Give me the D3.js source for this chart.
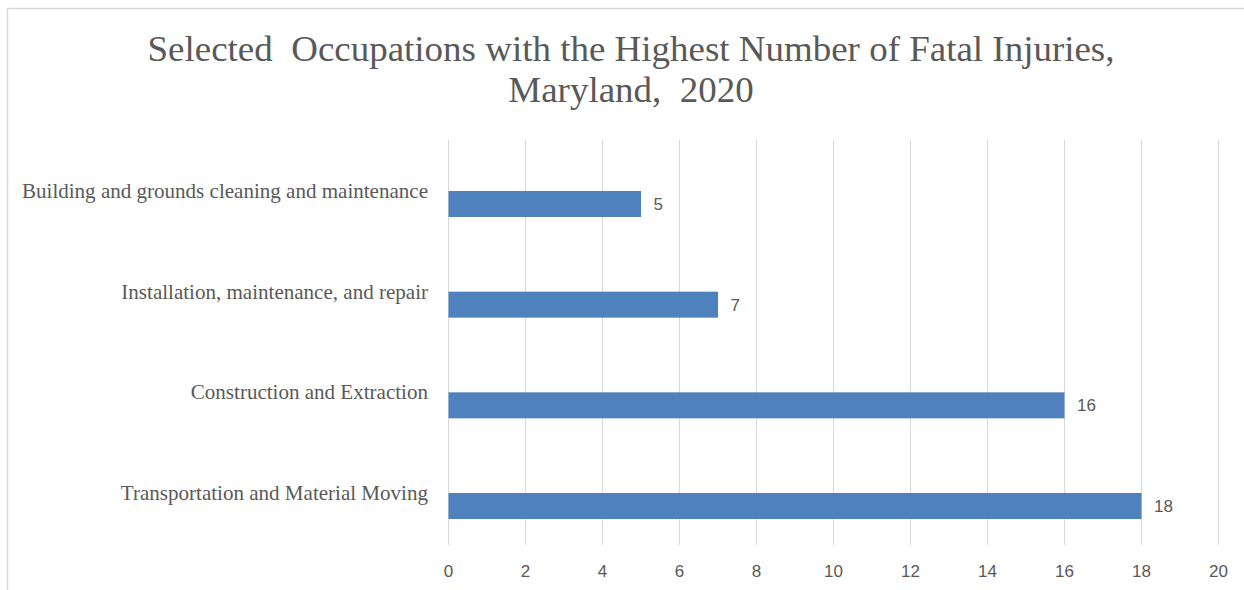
<!DOCTYPE html>
<html>
<head>
<meta charset="utf-8">
<script src="https://cdn.jsdelivr.net/npm/d3@7"></script>
<style>
  html, body { margin: 0; padding: 0; background: #fff; }
  svg { display: block; }
</style>
</head>
<body>
<svg id="chart" width="1244" height="590"></svg>
<script>
// data
const titleLines = ["Selected  Occupations with the Highest Number of Fatal Injuries,", "Maryland,  2020"];
const categories = [
  "Building and grounds cleaning and maintenance",
  "Installation, maintenance, and repair",
  "Construction and Extraction",
  "Transportation and Material Moving"
];
const values = [5, 7, 16, 18];
const ticks = [0, 2, 4, 6, 8, 10, 12, 14, 16, 18, 20];

const GRID = "#d9d9d9";
const TEXT = "#595959";
const BAR = "#4f81bd";

const svg = d3.select("#chart");

// frame
svg.append("rect")
  .attr("x", 7.5).attr("y", 8.5)
  .attr("width", 1260).attr("height", 620)
  .attr("fill", "none")
  .attr("stroke", GRID)
  .attr("stroke-width", 1.5);

// scales
const x = d3.scaleLinear().domain([0, 20]).range([448, 1218]);
const y = d3.scalePoint().domain(categories).range([204, 506]);
const plotTop = 140, plotBottom = 545, barH = 26;

// title: measure, then squeeze horizontally like the original
const title = svg.append("g")
  .attr("font-family", "'Liberation Serif', 'Times New Roman', serif")
  .attr("font-size", 36)
  .attr("fill", TEXT)
  .attr("text-anchor", "middle");
const tl = title.selectAll("text")
  .data(titleLines)
  .join("text")
  .attr("x", 631)
  .attr("y", (d, i) => 61 + i * 41)
  .style("white-space", "pre")
  .text(d => d);
const k = 967 / tl.nodes()[0].getComputedTextLength();
tl.attr("textLength", function () { return this.getComputedTextLength() * k; })
  .attr("lengthAdjust", "spacingAndGlyphs");

// gridlines
svg.append("g")
  .selectAll("line")
  .data(ticks)
  .join("line")
  .attr("x1", d => x(d) + 0.5).attr("x2", d => x(d) + 0.5)
  .attr("y1", plotTop).attr("y2", plotBottom)
  .attr("stroke", GRID)
  .attr("stroke-width", 1);

// x axis tick labels
const xAxis = svg.append("g")
  .attr("transform", `translate(0,${plotBottom})`)
  .call(d3.axisBottom(x).tickValues(ticks).tickSize(0).tickPadding(20));
xAxis.select(".domain").remove();
xAxis.selectAll("text")
  .attr("font-family", "'Liberation Sans', Arial, sans-serif")
  .attr("font-size", 17)
  .attr("fill", TEXT);

// bars
svg.append("g")
  .selectAll("rect")
  .data(values)
  .join("rect")
  .attr("x", x(0) + 0.5)
  .attr("y", (d, i) => y(categories[i]) - barH / 2)
  .attr("width", d => x(d) - x(0))
  .attr("height", barH)
  .attr("fill", BAR);

// value labels
svg.append("g")
  .selectAll("text")
  .data(values)
  .join("text")
  .attr("x", d => x(d) + 13)
  .attr("y", (d, i) => y(categories[i]))
  .attr("dy", "0.36em")
  .attr("font-family", "'Liberation Sans', Arial, sans-serif")
  .attr("font-size", 17)
  .attr("fill", TEXT)
  .text(d => d);

// category labels
const cl = svg.append("g")
  .selectAll("text")
  .data(categories)
  .join("text")
  .attr("x", 428)
  .attr("y", d => y(d) - 6)
  .attr("text-anchor", "end")
  .attr("font-family", "'Liberation Serif', 'Times New Roman', serif")
  .attr("font-size", 21)
  .attr("fill", TEXT)
  .text(d => d);
const kc = 406 / cl.nodes()[0].getComputedTextLength();
cl.attr("textLength", function () { return this.getComputedTextLength() * kc; })
  .attr("lengthAdjust", "spacingAndGlyphs");
</script>
</body>
</html>
